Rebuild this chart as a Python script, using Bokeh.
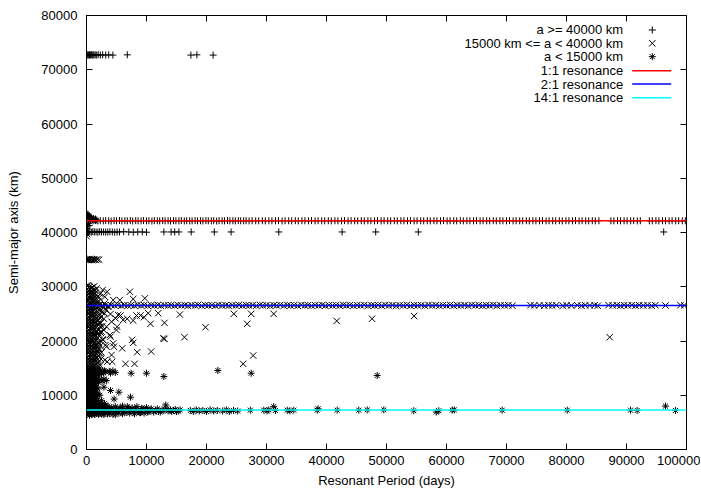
from bokeh.plotting import figure
from bokeh.models import (Range1d, LinearAxis, SingleIntervalTicker, BasicTickFormatter,
                          Span, Label)
from bokeh.embed import file_html
from bokeh.resources import INLINE

FONT = "Liberation Sans"

# ---------------- data: (resonant period [days], semi-major axis [km]) ----------------
# a >= 40000 km
hi_top = [(0, 72750), (120, 72700), (250, 72800), (380, 72700), (500, 72750), (650, 72700),
          (800, 72800), (950, 72700), (1100, 72750), (1250, 72700), (1450, 72750), (1700, 72700),
          (1950, 72800), (2300, 72700), (2700, 72750), (3200, 72700), (3700, 72750), (4400, 72700),
          (6800, 72750), (17400, 72700), (18400, 72750), (21100, 72700)]

hi_blob = [(0, 43600), (80, 43300), (160, 43000), (240, 43400), (320, 42800), (400, 43100),
           (500, 42600), (600, 42900), (700, 42500), (850, 42700), (1000, 42400), (1150, 42600),
           (1300, 42350), (1500, 42500), (1700, 42300), (60, 41500), (200, 41200), (350, 41700),
           (120, 40800), (450, 41300), (20, 42200)]

hi_geo = [(0, 42164), (350, 42100), (700, 42200), (1100, 42150), (1500, 42220), (1900, 42120),
          (2300, 42180), (2800, 42140), (3200, 42200), (3700, 42160), (4100, 42110), (4600, 42190),
          (5000, 42150), (5500, 42210), (5900, 42130), (6400, 42170), (6800, 42150), (7300, 42200),
          (7700, 42120), (8200, 42180), (8600, 42160), (9100, 42140), (9500, 42200), (10000, 42150),
          (10400, 42170), (10900, 42120), (11300, 42190), (11800, 42160), (12200, 42140), (12700, 42200),
          (13100, 42150), (13600, 42170), (14000, 42130), (14500, 42190), (14900, 42160), (15400, 42150),
          (15800, 42200), (16300, 42120), (16700, 42170), (17200, 42160), (17600, 42140), (18100, 42190),
          (18500, 42150), (19000, 42170), (19400, 42130), (19900, 42200), (20300, 42160), (20800, 42150),
          (21200, 42180), (21700, 42120), (22100, 42170), (22600, 42160), (23000, 42140), (23500, 42200),
          (23900, 42150), (24400, 42170), (24800, 42130), (25300, 42190), (25700, 42160), (26200, 42150),
          (26600, 42180), (27100, 42140), (27600, 42170), (28200, 42160), (28700, 42150), (29300, 42180),
          (29800, 42140), (30400, 42170), (30900, 42160), (31500, 42150), (32000, 42190), (32600, 42140),
          (33100, 42170), (33700, 42160), (34200, 42150), (34800, 42180), (35300, 42140), (35900, 42170),
          (36400, 42160), (37000, 42150), (37500, 42190), (38100, 42140), (38600, 42170), (39200, 42160),
          (39700, 42150), (40300, 42180), (40800, 42140), (41400, 42170), (41900, 42160), (42500, 42150),
          (43000, 42190), (43600, 42140), (44100, 42170), (44700, 42160), (45200, 42150), (45800, 42180),
          (46300, 42140), (46900, 42170), (47400, 42160), (48000, 42150), (48500, 42190), (49100, 42140),
          (49600, 42170), (50200, 42160), (50700, 42150), (51300, 42180), (51800, 42140), (52400, 42170),
          (52900, 42160), (53500, 42150), (54000, 42190), (54600, 42140), (55100, 42170), (55700, 42160),
          (56200, 42150), (56800, 42180), (57300, 42140), (57900, 42170), (58400, 42160), (59000, 42150),
          (59500, 42190), (60100, 42140), (60600, 42170), (61200, 42160), (61700, 42150), (62300, 42180),
          (62800, 42140), (63400, 42170), (63900, 42160), (64500, 42150), (65000, 42190), (65600, 42140),
          (66100, 42170), (66700, 42160), (67200, 42150), (67800, 42180), (68300, 42140), (68900, 42170),
          (69400, 42160), (70000, 42150), (70500, 42190), (71100, 42140), (71600, 42170), (72200, 42160),
          (72700, 42150), (73300, 42180), (73800, 42140), (74400, 42170), (74900, 42160), (75500, 42150),
          (76000, 42190), (76600, 42140), (77100, 42170), (77700, 42160), (78200, 42150), (78800, 42180),
          (79300, 42140), (79900, 42170), (80400, 42160), (81000, 42150), (81500, 42190), (82100, 42140),
          (82600, 42170), (83200, 42160), (83700, 42150), (84300, 42180), (84800, 42140), (85400, 42170),
          (87400, 42160), (87900, 42150), (88500, 42190), (89000, 42140), (89600, 42170), (90100, 42160),
          (90700, 42150), (91200, 42180), (91800, 42140), (92300, 42170), (93800, 42160), (94300, 42150),
          (94900, 42190), (95400, 42140), (96000, 42170), (96500, 42160), (97100, 42150), (97600, 42180),
          (98200, 42140), (98700, 42170), (99300, 42160), (99800, 42150)]

hi_40k = [(0, 40100), (150, 40050), (350, 40150), (550, 40100), (800, 40050), (1050, 40150),
          (1300, 40100), (1600, 40100), (1900, 40050), (2200, 40150), (2500, 40100), (2850, 40100),
          (3200, 40050), (3550, 40100), (3900, 40150), (4300, 40100), (4700, 40050), (5100, 40100),
          (5500, 40100), (6200, 40150), (7050, 40100), (7800, 40050), (8550, 40100), (9300, 40100),
          (10000, 40050), (12900, 40100), (14100, 40100), (14700, 40100), (15400, 40100),
          (17450, 40100), (21300, 40100), (24100, 40100), (32050, 40100), (42600, 40100),
          (48200, 40100), (55300, 40100), (96200, 40100)]

# 15000 km <= a < 40000 km
mid_35k = [(0, 35000), (120, 35100), (250, 34900), (380, 35050), (500, 34950), (650, 35100),
           (800, 35000), (950, 34900), (1100, 35050), (1300, 35000), (1550, 34950), (1800, 35050),
           (2100, 35000), (100, 39700), (30, 39300)]

mid_gps = [(0, 26600), (300, 26500), (600, 26650), (900, 26550), (1300, 26600), (1700, 26500),
           (2100, 26650), (2600, 26550), (3100, 26600), (3600, 26500), (4100, 26600), (4700, 26550),
           (5200, 26650), (5800, 26500), (6300, 26600), (6900, 26550), (7400, 26600), (8000, 26500),
           (8500, 26650), (9100, 26550), (9600, 26600), (10200, 26500), (10800, 26600), (11300, 26550),
           (11900, 26650), (12400, 26500), (13000, 26600), (13600, 26550), (14100, 26600), (14700, 26500),
           (15200, 26650), (15800, 26550), (16400, 26600), (16900, 26500), (17500, 26600), (18100, 26550),
           (18600, 26650), (19200, 26500), (19800, 26600), (20300, 26550), (20900, 26600), (21500, 26500),
           (22000, 26650), (22600, 26550), (23200, 26600), (23700, 26500), (24300, 26600), (24900, 26550),
           (25400, 26650), (26000, 26500), (26600, 26600), (27100, 26550), (27700, 26600), (28300, 26500),
           (28900, 26650), (29400, 26550), (30000, 26600), (30600, 26500), (31200, 26600), (31700, 26550),
           (32300, 26650), (32900, 26500), (33500, 26600), (34000, 26550), (34600, 26600), (35200, 26500),
           (35800, 26650), (36400, 26550), (36900, 26600), (37500, 26500), (38100, 26600), (38700, 26550),
           (39300, 26650), (39800, 26500), (40400, 26600), (41000, 26550), (41600, 26600), (42200, 26500),
           (42800, 26650), (43300, 26550), (43900, 26600), (44500, 26500), (45100, 26600), (45700, 26550),
           (46300, 26650), (46900, 26500), (47500, 26600), (48000, 26550), (48600, 26600), (49200, 26500),
           (49800, 26650), (50400, 26550), (51000, 26600), (51600, 26500), (52200, 26600), (52800, 26550),
           (53400, 26650), (54000, 26500), (54600, 26600), (55200, 26550), (55800, 26600), (56400, 26500),
           (57000, 26650), (57600, 26550), (58200, 26600), (58800, 26500), (59400, 26600), (60000, 26550),
           (60600, 26650), (61200, 26500), (61800, 26600), (62400, 26550), (63000, 26600), (63600, 26500),
           (64200, 26650), (64800, 26550), (65400, 26600), (66000, 26500), (66600, 26600), (67200, 26550),
           (67800, 26650), (68400, 26500), (69000, 26600), (69700, 26550), (70300, 26600), (71000, 26500),
           (74000, 26600), (74600, 26550), (75500, 26600), (76300, 26500), (77000, 26600), (77600, 26550),
           (78300, 26600), (79400, 26500), (80000, 26600), (80800, 26550), (81800, 26600), (82500, 26500),
           (83100, 26600), (83900, 26550), (84700, 26600), (85200, 26500), (87000, 26600), (87700, 26550),
           (88400, 26600), (89000, 26500), (89600, 26600), (90200, 26550), (90900, 26600), (91500, 26500),
           (92100, 26600), (92800, 26550), (93500, 26600), (94200, 26500), (94800, 26600), (96500, 26550),
           (99000, 26600), (99600, 26550)]

mid_col = [(50, 30200), (500, 30000), (1000, 29900),
           (150, 29600), (650, 29500), (1200, 29400), (1700, 29700),
           (50, 29000), (450, 28900), (900, 29100), (1400, 28800),
           (200, 28400), (700, 28300), (1150, 28500), (1900, 28200),
           (50, 27800), (550, 27900), (1000, 27700), (1500, 27600),
           (150, 27200), (600, 27100), (1100, 27300), (1800, 27000),
           (50, 26000), (500, 25900), (950, 26100), (1500, 25800), (2100, 25700),
           (150, 25400), (650, 25300), (1100, 25500), (1700, 25200), (2600, 25300),
           (50, 24800), (500, 24700), (1000, 24900), (1400, 24600), (2000, 24500),
           (200, 24200), (700, 24100), (1200, 24300), (1800, 24000), (2900, 24100),
           (50, 23600), (550, 23500), (1000, 23700), (1500, 23400), (2200, 23300),
           (150, 23000), (600, 22900), (1100, 23100), (1700, 22800), (2600, 22700),
           (50, 22400), (500, 22300), (950, 22500), (1400, 22200), (2000, 22100),
           (200, 21800), (700, 21700), (1150, 21900), (1700, 21600), (2400, 21500),
           (50, 21200), (550, 21100), (1000, 21300), (1500, 21000), (2100, 20900),
           (150, 20600), (600, 20500), (1100, 20700), (1800, 20400), (2700, 20300),
           (50, 20000), (500, 19900), (950, 20100), (1400, 19800), (2000, 19700),
           (200, 19400), (700, 19300), (1200, 19500), (1700, 19200), (2300, 19100),
           (50, 18800), (550, 18700), (1000, 18900), (1500, 18600), (2100, 18500),
           (150, 18200), (600, 18100), (1100, 18300), (1800, 18000), (2500, 17900),
           (50, 17600), (500, 17500), (950, 17700), (1400, 17400), (2000, 17300),
           (200, 17000), (700, 16900), (1150, 17100), (1700, 16800), (2400, 16700),
           (50, 16400), (550, 16300), (1000, 16500), (1500, 16200), (2000, 16100),
           (150, 15800), (600, 15700), (1100, 15900), (1700, 15600), (2300, 15500),
           (50, 15200), (500, 15100), (950, 15300), (1400, 15000)]

mid_col2 = [(300, 30300), (800, 29800), (1300, 30100),
            (350, 29300), (850, 29200), (1450, 29300),
            (300, 28700), (800, 28600), (1300, 28700),
            (350, 28100), (900, 28000), (1400, 28200), (2100, 28000),
            (300, 27500), (800, 27400), (1300, 27500), (2000, 27400),
            (300, 26900), (800, 26800), (1300, 26900), (2200, 26800), (3000, 26900),
            (300, 26300), (800, 26200), (1300, 26300), (2000, 26250), (2900, 26200), (3600, 26300),
            (300, 25700), (800, 25600), (1300, 25650), (2400, 25600), (3300, 25700),
            (300, 25100), (800, 25000), (1300, 25050), (2200, 25000), (3000, 25100),
            (300, 24500), (800, 24400), (1300, 24450), (2400, 24400),
            (300, 23900), (800, 23800), (1300, 23850), (2000, 23800),
            (300, 23300), (800, 23200), (1300, 23250), (1900, 23200),
            (300, 22700), (800, 22600), (1300, 22650), (2300, 22600),
            (300, 22100), (800, 22000), (1300, 22050),
            (300, 21500), (800, 21400), (1300, 21450), (2000, 21400),
            (300, 20900), (800, 20800), (1300, 20850),
            (300, 20300), (800, 20200), (1300, 20250), (2200, 20200),
            (300, 19700), (800, 19600), (1300, 19650),
            (300, 19100), (800, 19000), (1300, 19050), (1900, 19000),
            (300, 18500), (800, 18400), (1300, 18450),
            (300, 17900), (800, 17800), (1300, 17850), (2000, 17800),
            (300, 17300), (800, 17200), (1300, 17250),
            (300, 16700), (800, 16600), (1300, 16650), (1900, 16600),
            (300, 16100), (800, 16000), (1300, 16050),
            (300, 15500), (800, 15400), (1300, 15450), (1900, 15300)]

mid_scatter = [(3450, 29080), (7220, 29080), (7780, 27740), (9720, 27870), (5550, 27550),
               (4450, 27550), (3050, 28160), (2300, 28700), (2700, 29400),
               (5670, 24700), (6780, 24090), (7780, 23770), (8330, 24700), (9000, 24700),
               (9560, 24380), (10280, 25120), (10670, 23170), (11950, 25120), (13000, 23350),
               (15560, 24880), (19830, 22540), (24560, 25010), (26780, 23170), (27450, 25010),
               (27780, 17320), (26110, 15790), (16330, 20700), (13000, 20400), (7610, 20220),
               (7780, 19670), (8440, 17930), (10780, 18060), (6500, 15790), (8000, 15790),
               (31200, 25000), (41700, 23700), (47600, 24100), (54600, 24600), (87200, 20700),
               (4000, 20790), (4560, 18950), (5950, 18650), (3450, 16180), (4280, 16180),
               (2890, 22020), (2330, 23260), (4830, 24180), (4000, 24970), (5110, 22630),
               (3170, 19260), (2330, 17730), (5280, 24790), (6110, 23870), (12780, 20490),
               (4450, 19570), (3890, 21100), (3330, 18950), (4170, 17420), (3050, 16500),
               (5000, 22020), (3330, 22630), (4170, 23550), (2500, 21710), (2780, 20180)]

# a < 15000 km
lo_col = [(50, 14700), (500, 14600), (950, 14800), (1500, 14500),
          (150, 14100), (650, 14000), (1100, 14200), (1700, 13900),
          (50, 13500), (500, 13400), (1000, 13600), (1400, 13300),
          (200, 12900), (700, 12800), (1150, 13000), (1800, 12700),
          (50, 12300), (550, 12200), (1000, 12400), (1500, 12100),
          (150, 11700), (600, 11600), (1100, 11800), (1700, 11500),
          (50, 11100), (500, 11000), (950, 11200), (1400, 10900),
          (200, 10500), (700, 10400), (1200, 10600), (1800, 10300),
          (50, 9900), (550, 9800), (1000, 10000), (1500, 9700),
          (150, 9300), (600, 9200), (1100, 9400), (1700, 9100),
          (50, 8700), (500, 8600), (950, 8800), (1400, 8500),
          (200, 8100), (700, 8000), (1150, 8200), (1800, 7900),
          (50, 7500), (550, 7400), (1000, 7600), (1500, 7300),
          (150, 6900), (600, 6800), (1100, 7000), (1700, 6700),
          (50, 6400), (500, 6300), (950, 6500), (1400, 6450)]

lo_col2 = [(300, 14900), (800, 14800), (1300, 14850), (2100, 14800), (3000, 14500), (3800, 14400),
           (4400, 14500), (300, 14300), (800, 14200), (1300, 14250), (2000, 14300), (2800, 14200),
           (300, 13700), (800, 13600), (1300, 13650), (2000, 13700),
           (300, 13100), (800, 13000), (1300, 13050), (2200, 12900), (2900, 13000),
           (300, 12500), (800, 12400), (1300, 12450), (2000, 12400),
           (300, 11900), (800, 11800), (1300, 11850),
           (300, 11300), (800, 11200), (1300, 11250), (1900, 11200),
           (300, 10700), (800, 10600), (1300, 10650),
           (300, 10100), (800, 10000), (1300, 10050), (1900, 10100),
           (300, 9500), (800, 9400), (1300, 9450),
           (300, 8900), (800, 8800), (1300, 8850), (2000, 8800),
           (300, 8300), (800, 8200), (1300, 8250), (2000, 8300), (2700, 8200),
           (300, 7700), (800, 7600), (1300, 7650), (2000, 7700), (2800, 7800), (3500, 7600),
           (300, 7100), (800, 7000), (1300, 7050), (2000, 7000),
           (300, 6600), (800, 6500), (1300, 6550), (2000, 6500), (2900, 6450), (3500, 6550)]

lo_band = [(2100, 7200), (2400, 6700), (2700, 7600), (3000, 6900), (3400, 7400), (3800, 6600),
           (4200, 7700), (4600, 7000), (5000, 7300), (5400, 6700), (5800, 7500), (6200, 7100),
           (6600, 6800), (7000, 7600), (7400, 7200), (7800, 6900), (8200, 7400), (8600, 7100),
           (9000, 6800), (9400, 7500), (9800, 7200), (10200, 6900), (10600, 7300), (2500, 8100),
           (3600, 8000), (4800, 6400), (6000, 8000), (11500, 7200), (12000, 7000), (12600, 7300),
           (13200, 8200), (13600, 7100), (14000, 7300), (14500, 7200), (15000, 7000), (15600, 7300),
           (17300, 7200), (17800, 7000), (18300, 7300), (18800, 7100), (19400, 7200), (20000, 7000),
           (20600, 7300), (21200, 7100), (21800, 7200), (22700, 7100), (23300, 7300), (23800, 7000),
           (24500, 7200), (25200, 7100), (27300, 7250), (29550, 7250), (30100, 7100), (30380, 7300),
           (31200, 7900), (31500, 7200), (33450, 7250), (33900, 7100), (34550, 7250), (38450, 7250),
           (38600, 7500), (41780, 7250), (45380, 7250), (46780, 7300), (49550, 7300), (54550, 7150),
           (58300, 6900), (58720, 7150), (60950, 7250), (61300, 7300), (69280, 7250), (80120, 7250),
           (90670, 7250), (91780, 7200), (96500, 8000), (98170, 7200)]

lo_band2 = [(2250, 7900), (2550, 6500), (2850, 7300), (3150, 8000), (3600, 6900), (4000, 7400),
            (4400, 6500), (4800, 7900), (5200, 7000), (5600, 7700), (6000, 6600), (6400, 7400),
            (6800, 7900), (7200, 6700), (7600, 7700), (8000, 6600), (8400, 7900), (8800, 6800),
            (9200, 7600), (9600, 6700), (10000, 7700), (10400, 7000), (10800, 7500), (11200, 6900),
            (11800, 7500), (12300, 6900), (12900, 7200), (13400, 7500), (14200, 7000), (14800, 7400),
            (15300, 7100)]

lo_scatter = [(1800, 14200), (2500, 14000), (3200, 14300), (4000, 14100), (4800, 14200),
              (2300, 14600), (2600, 12600), (3300, 12700), (2900, 11480), (4000, 10870),
              (5390, 10560), (2200, 10000), (2500, 9000), (3000, 8500), (7440, 14060),
              (10000, 14060), (12890, 13450), (21890, 14560), (27450, 14060), (48450, 13640),
              (7330, 9640), (4600, 9300)]

# resonance semi-major axes (km)
res_1_1 = 42164
res_2_1 = 26562
res_14_1 = 7259

# legend texts
legend_texts = ["a >= 40000 km", "15000 km <= a < 40000 km", "a < 15000 km",
                "1:1 resonance", "2:1 resonance", "14:1 resonance"]


def xs(pts):
    return [q[0] for q in pts]


def ys(pts):
    return [q[1] for q in pts]


hi = hi_top + hi_blob + hi_geo + hi_40k
mid = mid_35k + mid_gps + mid_col + mid_col2 + mid_scatter
lo = lo_col + lo_col2 + lo_band + lo_band2 + lo_scatter

p = figure(width=700, height=490, output_backend="svg", toolbar_location=None,
           x_range=Range1d(0, 100000), y_range=Range1d(0, 80000),
           min_border_left=86, min_border_right=14, min_border_top=15, min_border_bottom=41)
p.background_fill_color = "white"
p.border_fill_color = "white"
p.outline_line_color = "black"
p.xgrid.grid_line_color = None
p.ygrid.grid_line_color = None


def style_axis(ax, labels=True):
    ax.ticker = SingleIntervalTicker(interval=10000, num_minor_ticks=0)
    ax.formatter = BasicTickFormatter(use_scientific=False)
    ax.axis_line_color = "black"
    ax.major_tick_line_color = "black"
    ax.minor_tick_line_color = None
    ax.major_tick_in = 6
    ax.major_tick_out = 0
    ax.major_label_text_font = FONT
    ax.major_label_text_font_size = "13px"
    if labels:
        ax.major_label_text_color = "black"
    else:
        ax.major_label_text_font_size = "1px"
        ax.major_label_text_color = None
        ax.major_label_standoff = 0
    ax.axis_label_text_font = FONT
    ax.axis_label_text_font_size = "13px"
    ax.axis_label_text_font_style = "normal"
    ax.axis_label_text_color = "black"


style_axis(p.xaxis[0])
style_axis(p.yaxis[0])
p.xaxis[0].axis_label = "Resonant Period (days)"
p.yaxis[0].axis_label = "Semi-major axis (km)"
p.xaxis[0].major_label_standoff = 6
p.xaxis[0].axis_label_standoff = 5
p.yaxis[0].major_label_standoff = 9
p.yaxis[0].axis_label_standoff = 17

top_ax = LinearAxis()
style_axis(top_ax, labels=False)
p.add_layout(top_ax, "above")
right_ax = LinearAxis()
style_axis(right_ax, labels=False)
p.add_layout(right_ax, "right")

p.scatter(xs(hi), ys(hi), marker="cross", size=7, line_color="black", line_width=1)
p.scatter(xs(mid), ys(mid), marker="x", size=9, line_color="black", line_width=1)
p.scatter(xs(lo), ys(lo), marker="asterisk", size=7, line_color="black", line_width=1)

p.add_layout(Span(location=res_1_1, dimension="width", line_color="#ff0000", line_width=1.5))
p.add_layout(Span(location=res_2_1, dimension="width", line_color="#0000ff", line_width=1.5))
p.add_layout(Span(location=res_14_1, dimension="width", line_color="#00ffff", line_width=1.5))

# legend (gnuplot style: text right-aligned, sample on the right)
leg_text_x = 89450
leg_mark_x = 94300
leg_line_x0 = 90950
leg_line_x1 = 97450
leg_rows_y = [77330, 74880, 72410, 69830, 67370, 64850]
for t, yy in zip(legend_texts, leg_rows_y):
    p.add_layout(Label(x=leg_text_x, y=yy, text=t, text_align="right", text_baseline="middle",
                       text_font=FONT, text_font_size="13px", text_color="black"))
p.scatter([leg_mark_x], [leg_rows_y[0]], marker="cross", size=7, line_color="black")
p.scatter([leg_mark_x], [leg_rows_y[1]], marker="x", size=9, line_color="black")
p.scatter([leg_mark_x], [leg_rows_y[2]], marker="asterisk", size=7, line_color="black")
for col, yy in zip(["#ff0000", "#0000ff", "#00ffff"], leg_rows_y[3:]):
    p.line([leg_line_x0, leg_line_x1], [yy, yy], line_color=col, line_width=1.5)

open("out.html", "w").write(file_html(p, INLINE))
